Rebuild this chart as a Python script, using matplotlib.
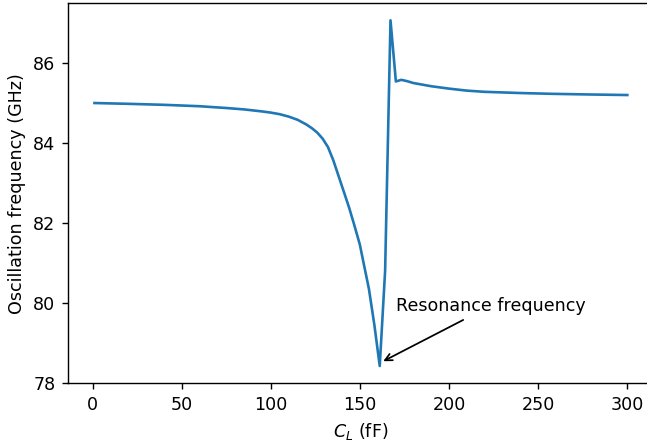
import numpy as np
import matplotlib
matplotlib.use("Agg")
import matplotlib.pyplot as plt

# values
c_l = [1, 20, 40, 60, 75, 85, 95, 100, 105, 110, 115, 120, 123, 126, 129,
       132, 135, 138, 141, 143.9, 146.9, 149.9, 152.0, 155.0, 158.05,
       161.07, 164.09, 167.11, 170.13, 173.15, 176.2, 180, 190, 200, 210,
       220, 240, 258, 277, 300]
f_osc = [85.00, 84.98, 84.955, 84.92, 84.875, 84.84, 84.79, 84.76, 84.72,
         84.66, 84.58, 84.46, 84.37, 84.26, 84.11, 83.90, 83.57, 83.17,
         82.77, 82.38, 81.93, 81.46, 81.00, 80.35, 79.45, 78.42, 80.80,
         87.07, 85.54, 85.58, 85.55, 85.50, 85.42, 85.36, 85.31, 85.28,
         85.25, 85.23, 85.215, 85.20]

dpi = 126
fig = plt.figure(figsize=(647 / dpi, 443 / dpi), dpi=dpi)
ax = fig.add_axes([0.1048, 0.1348, 0.906, 0.8584])
ax.plot(c_l, f_osc, color="#1f77b4", linewidth=1.5)

ax.annotate("Resonance frequency", xy=(161.3, 78.5), xytext=(170, 79.8),
            arrowprops=dict(arrowstyle="->", color="black"))

ax.set_xlabel("$C_L$ (fF)")
ax.set_ylabel("Oscillation frequency (GHz)")
ax.set_xticks([0, 50, 100, 150, 200, 250, 300])
ax.set_yticks([78, 80, 82, 84, 86])

fig.savefig("out.png", dpi=dpi)
